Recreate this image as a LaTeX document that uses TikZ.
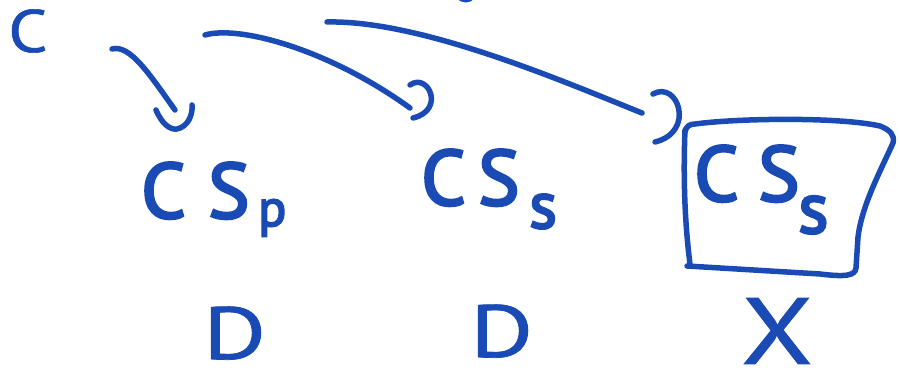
\documentclass[tikz,border=0pt]{standalone}
\usepackage{fontspec}
\setmainfont{PT Sans}
\newfontfamily\midfont{PT Sans}[FakeBold=1.0]
\newfontfamily\heavyfont{PT Sans}[FakeBold=3.5]
\definecolor{ink}{RGB}{26,75,180}
\begin{document}
\begin{tikzpicture}[x=1pt,y=-1pt,
  lbl/.style={text=ink, inner sep=0pt, anchor=base west,
              font=\heavyfont\fontsize{78}{78}\selectfont},
  big/.style={lbl, xscale=1.3, font=\midfont\fontsize{74}{74}\selectfont},
  pen/.style={draw=ink, line width=5.5pt, line cap=round, line join=round}]
\useasboundingbox (0,0) rectangle (900,371);

% labels
\node[lbl, xscale=1.15, font=\midfont\fontsize{60}{60}\selectfont] (c) at (8,52) {C};
\node[lbl] (csp) at (141,218)
  {\makebox[67pt][l]{C}\makebox[50pt][l]{S}\raisebox{-8pt}{\fontsize{52}{52}\selectfont p}};
\node[lbl] (css1) at (421,205)
  {\makebox[57pt][l]{C}\makebox[51pt][l]{S}\raisebox{-23pt}{\fontsize{66}{66}\selectfont s}};
\node[lbl] (css2) at (694,201)
  {\makebox[64pt][l]{C}\makebox[40pt][l]{S}\raisebox{-32pt}{\fontsize{72}{72}\selectfont s}};
\node[big] (d1) at (203,359) {D};
\node[big] (d2) at (470,357) {D};
\node[big, xscale=0.95, font=\midfont\fontsize{94}{94}\selectfont] (x) at (741,364) {X};

% connector ends
\coordinate (a1s) at (112,49);
\coordinate (a1e) at (175,110);
\coordinate (a2s) at (205,35);
\coordinate (a2e) at (410,108);
\coordinate (a3s) at (327,22);
\coordinate (a3e) at (642,113);

% arrow 1
\draw[pen] (a1s) .. controls (130,44) and (150,75) .. (a1e);
\draw[pen] (156,110) .. controls (162,124) and (170,130) .. (177,129)
           .. controls (187,127) and (193,116) .. (192,105);
% arrow 2
\draw[pen] (a2s) .. controls (240,25) and (330,50) .. (a2e);
\draw[pen] (410,85) .. controls (428,72) and (446,110) .. (413,118);
% arrow 3
\draw[pen] (a3s) .. controls (420,20) and (560,80) .. (a3e);
\draw[pen] (653,94) .. controls (678,80) and (696,132) .. (655,142);

% small mark at top edge
\draw[pen] (458,-4) .. controls (463,1) and (469,1) .. (473,-4);

% box around the right CS_s
\draw[pen] (685,132) .. controls (686,126) and (690,124) .. (695,124)
  .. controls (740,118) and (840,117) .. (880,126)
  .. controls (890,130) and (895,135) .. (893,143)
  .. controls (880,172) and (862,205) .. (858,237)
  -- (856,268) .. controls (855,276) and (845,277) .. (820,274)
  -- (687,266);
\draw[pen] (685,130) .. controls (683,180) and (685,225) .. (690,264);
\end{tikzpicture}
\end{document}
